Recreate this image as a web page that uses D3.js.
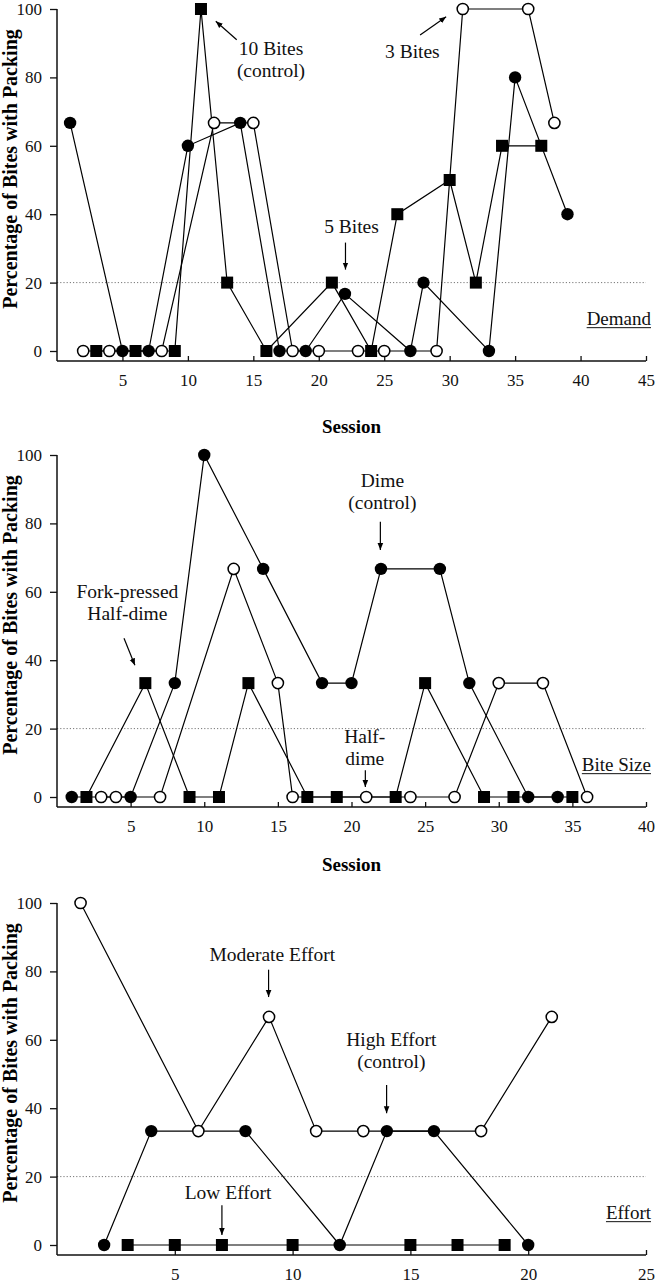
<!DOCTYPE html>
<html>
<head>
<meta charset="utf-8">
<script src="https://cdn.jsdelivr.net/npm/d3@7"></script>
<style>
  body { margin: 0; background: #fff; }
  svg { display: block; font-family: "Liberation Serif", "Times New Roman", serif; }
</style>
</head>
<body>
<svg id="chart" width="657" height="1285"></svg>
<script>
// ---- data ----
// Demand panel
const demandSquareX = [3, 6, 9, 11, 13, 16, 21, 24, 26, 30, 32, 34, 37];
const demandSquareY = [0, 0, 0, 100, 20, 0, 20, 0, 40, 50, 20, 60, 60];
const demandFilledX = [1, 5, 7, 10, 14, 17, 19, 22, 27, 28, 33, 35, 39];
const demandFilledY = [66.7, 0, 0, 60, 66.7, 0, 0, 16.7, 0, 20, 0, 80, 40];
const demandOpenX = [2, 4, 8, 12, 15, 18, 20, 23, 25, 29, 31, 36, 38];
const demandOpenY = [0, 0, 0, 66.7, 66.7, 0, 0, 0, 0, 0, 100, 100, 66.7];

// Bite size panel
const biteSquareX = [2, 6, 9, 11, 13, 17, 19, 23, 25, 29, 31, 35];
const biteSquareY = [0, 33.3, 0, 0, 33.3, 0, 0, 0, 33.3, 0, 0, 0];
const biteFilledX = [1, 5, 8, 10, 14, 18, 20, 22, 26, 28, 32, 34];
const biteFilledY = [0, 0, 33.3, 100, 66.7, 33.3, 33.3, 66.7, 66.7, 33.3, 0, 0];
const biteOpenX = [3, 4, 7, 12, 15, 16, 21, 24, 27, 30, 33, 36];
const biteOpenY = [0, 0, 0, 66.7, 33.3, 0, 0, 0, 0, 33.3, 33.3, 0];

// Effort panel
const effortSquareX = [3, 5, 7, 10, 15, 17, 19];
const effortSquareY = [0, 0, 0, 0, 0, 0, 0];
const effortFilledX = [2, 4, 8, 12, 14, 16, 20];
const effortFilledY = [0, 33.3, 33.3, 0, 33.3, 33.3, 0];
const effortOpenX = [1, 6, 9, 11, 13, 18, 21];
const effortOpenY = [100, 33.3, 66.7, 33.3, 33.3, 33.3, 66.7];

const yTicks = [0, 20, 40, 60, 80, 100];
const demandTicks = [5, 10, 15, 20, 25, 30, 35, 40, 45];
const biteTicks = [5, 10, 15, 20, 25, 30, 35, 40];
const effortTicks = [5, 10, 15, 20, 25];
const criterion = 20;

const yTitle = "Percentage of Bites with Packing";
const xTitle = "Session";

// annotations: text lines anchored at (session, percent); arrows from -> to
const demandNotes = [
    { lines: ["10 Bites", "(control)"], s: 16.35, v: 86.6, from: [13.73, 91], to: [12.13, 96.4] },
    { lines: ["3 Bites"], s: 27.15, v: 85.6, from: [27.74, 92.4], to: [29.73, 97.7] },
    { lines: ["5 Bites"], s: 22.5, v: 34.5, from: [22.04, 31.7], to: [22.04, 23.8] }
];
const biteNotes = [
    { lines: ["Fork-pressed", "Half-dime"], s: 4.78, v: 58.1, from: [4.55, 46.4], to: [5.29, 38.5] },
    { lines: ["Dime", "(control)"], s: 22.1, v: 90.7, from: [21.96, 80.5], to: [21.96, 72.2] },
    { lines: ["Half-", "dime"], s: 20.9, v: 15.7, from: [20.94, 7.8], to: [20.94, 2.9] }
];
const effortNotes = [
    { lines: ["Moderate Effort"], s: 9.14, v: 83.0, from: [8.98, 80.5], to: [8.98, 72.5] },
    { lines: ["High Effort", "(control)"], s: 14.19, v: 58.2, from: [13.99, 46.8], to: [13.99, 38.5] },
    { lines: ["Low Effort"], s: 7.26, v: 13.4, from: [7.0, 11.6], to: [7.0, 2.9] }
];

function pairs(xs, ys) {
    return xs.map((x, i) => ({ s: x, v: ys[i] }));
}

const panels = [
    {
        label: "Demand", top: 9, xMax: 45, ticks: demandTicks, notes: demandNotes, sessionGap: 72,
        squares: pairs(demandSquareX, demandSquareY),
        filled: pairs(demandFilledX, demandFilledY),
        open: pairs(demandOpenX, demandOpenY)
    },
    {
        label: "Bite Size", top: 455, xMax: 40, ticks: biteTicks, notes: biteNotes, sessionGap: 64,
        squares: pairs(biteSquareX, biteSquareY),
        filled: pairs(biteFilledX, biteFilledY),
        open: pairs(biteOpenX, biteOpenY)
    },
    {
        label: "Effort", top: 903, xMax: 25, ticks: effortTicks, notes: effortNotes, sessionGap: null,
        squares: pairs(effortSquareX, effortSquareY),
        filled: pairs(effortFilledX, effortFilledY),
        open: pairs(effortOpenX, effortOpenY)
    }
];

const svg = d3.select("#chart");

const left = 57, right = 646, plotH = 342, axisGap = 10;

svg.append("defs").append("marker")
    .attr("id", "arrowhead")
    .attr("viewBox", "0 0 10 10")
    .attr("refX", 10).attr("refY", 5)
    .attr("markerWidth", 7).attr("markerHeight", 7)
    .attr("markerUnits", "userSpaceOnUse")
    .attr("orient", "auto")
    .append("path")
    .attr("d", "M0,1 L10,5 L0,9 Z")
    .attr("fill", "#000");

panels.forEach(p => {
    const g = svg.append("g");
    const x = d3.scaleLinear().domain([0, p.xMax]).range([left, right]);
    const y = d3.scaleLinear().domain([0, 100]).range([p.top + plotH, p.top]);
    const axisY = y(0) + axisGap;

    // criterion line
    g.append("line")
        .attr("x1", left).attr("x2", right)
        .attr("y1", y(criterion)).attr("y2", y(criterion))
        .attr("stroke", "#777").attr("stroke-width", 1)
        .attr("stroke-dasharray", "1.2,2");

    // y axis
    const ya = g.append("g")
        .attr("transform", `translate(${left},0)`)
        .call(d3.axisLeft(y).tickValues(yTicks).tickSize(7).tickPadding(8));
    ya.select(".domain").remove();
    ya.selectAll("text").attr("font-size", 17).attr("font-family", "Liberation Serif").attr("fill", "#111");
    ya.selectAll("line").attr("stroke", "#111").attr("stroke-width", 1.3);
    g.append("line")
        .attr("x1", left).attr("x2", left)
        .attr("y1", y(100)).attr("y2", axisY)
        .attr("stroke", "#111").attr("stroke-width", 1.5);

    // x axis
    const xa = g.append("g")
        .attr("transform", `translate(0,${axisY})`)
        .call(d3.axisBottom(x).tickValues(p.ticks).tickSize(-5).tickPadding(13));
    xa.select(".domain").remove();
    xa.selectAll("text").attr("font-size", 17).attr("font-family", "Liberation Serif").attr("fill", "#111");
    xa.selectAll("line").attr("stroke", "#111").attr("stroke-width", 1.3);
    g.append("line")
        .attr("x1", left).attr("x2", right)
        .attr("y1", axisY).attr("y2", axisY)
        .attr("stroke", "#111").attr("stroke-width", 1.5);

    // axis titles
    g.append("text")
        .attr("transform", `translate(17,${p.top + 160}) rotate(-90)`)
        .attr("text-anchor", "middle")
        .attr("font-size", 20).attr("font-weight", "bold")
        .text(yTitle);
    if (p.sessionGap) {
        g.append("text")
            .attr("x", (left + right) / 2).attr("y", axisY + p.sessionGap)
            .attr("text-anchor", "middle")
            .attr("font-size", 19).attr("font-weight", "bold")
            .text(xTitle);
    }

    // condition label, underlined
    const lab = g.append("text")
        .attr("x", 651).attr("y", y(7.7))
        .attr("text-anchor", "end")
        .attr("font-size", 19)
        .attr("fill", "#111")
        .text(p.label);
    const w = lab.node().getComputedTextLength();
    g.append("line")
        .attr("x1", 651 - w).attr("x2", 651)
        .attr("y1", y(7.7) + 3).attr("y2", y(7.7) + 3)
        .attr("stroke", "#111").attr("stroke-width", 1);

    // series lines
    const line = d3.line().x(d => x(d.s)).y(d => y(d.v));
    [p.squares, p.filled, p.open].forEach(s => {
        g.append("path")
            .datum(s)
            .attr("d", line)
            .attr("fill", "none")
            .attr("stroke", "#000")
            .attr("stroke-width", 1.2);
    });

    // markers
    g.selectAll(".sq").data(p.squares).enter().append("rect")
        .attr("x", d => x(d.s) - 6).attr("y", d => y(d.v) - 6)
        .attr("width", 12).attr("height", 12)
        .attr("fill", "#000");
    g.selectAll(".fc").data(p.filled).enter().append("circle")
        .attr("cx", d => x(d.s)).attr("cy", d => y(d.v))
        .attr("r", 6.2)
        .attr("fill", "#000");
    g.selectAll(".oc").data(p.open).enter().append("circle")
        .attr("cx", d => x(d.s)).attr("cy", d => y(d.v))
        .attr("r", 5.6)
        .attr("fill", "#fff")
        .attr("stroke", "#000").attr("stroke-width", 1.5);

    // annotations
    p.notes.forEach(n => {
        n.lines.forEach((t, i) => {
            g.append("text")
                .attr("x", x(n.s)).attr("y", y(n.v) + i * 22)
                .attr("text-anchor", "middle")
                .attr("font-size", 19.5)
                .attr("fill", "#111")
                .text(t);
        });
        g.append("line")
            .attr("x1", x(n.from[0])).attr("y1", y(n.from[1]))
            .attr("x2", x(n.to[0])).attr("y2", y(n.to[1]))
            .attr("stroke", "#000").attr("stroke-width", 1.2)
            .attr("marker-end", "url(#arrowhead)");
    });
});
</script>
</body>
</html>
